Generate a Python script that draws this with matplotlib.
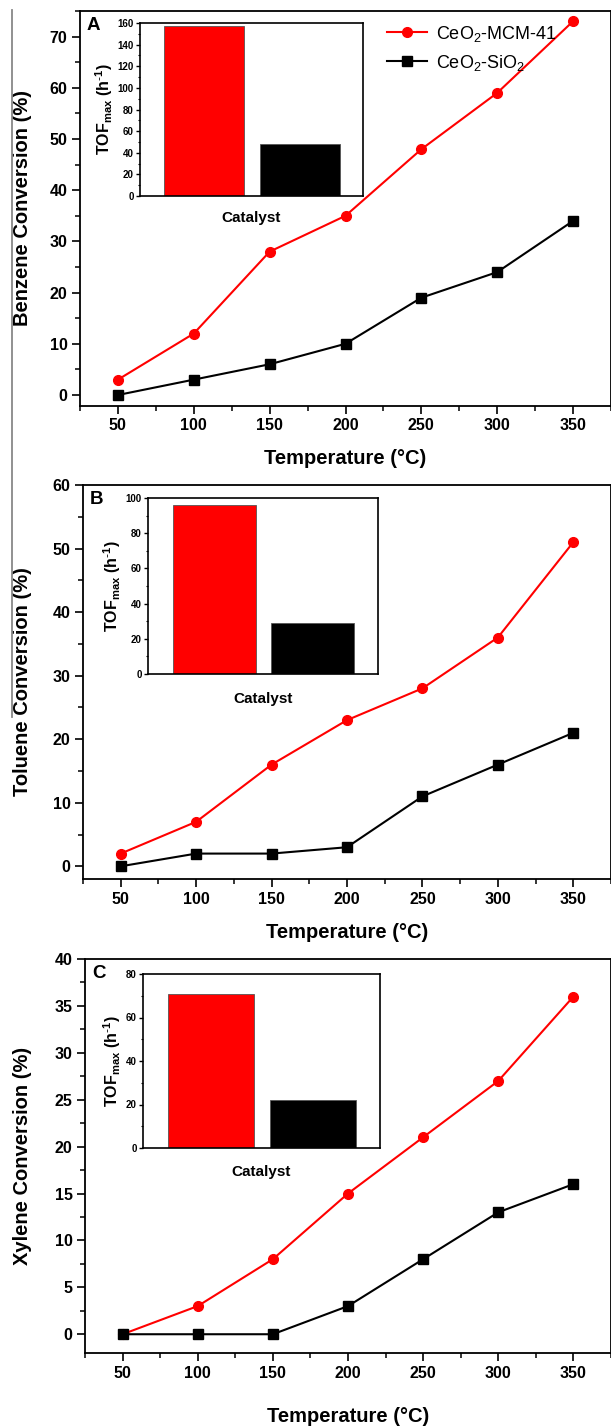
import matplotlib
matplotlib.use("Agg")
import matplotlib.pyplot as plt
from matplotlib.lines import Line2D
from matplotlib.ticker import MultipleLocator

plt.rcParams['font.family'] = ['Liberation Sans', 'DejaVu Sans']
plt.rcParams['mathtext.default'] = 'regular'
plt.rcParams['axes.unicode_minus'] = False

# data
temps = [50, 100, 150, 200, 250, 300, 350]

benzene_mcm = [3, 12, 28, 35, 48, 59, 73]
benzene_sio2 = [0, 3, 6, 10, 19, 24, 34]
toluene_mcm = [2, 7, 16, 23, 28, 36, 51]
toluene_sio2 = [0, 2, 2, 3, 11, 16, 21]
xylene_mcm = [0, 3, 8, 15, 21, 27, 36]
xylene_sio2 = [0, 0, 0, 3, 8, 13, 16]

tof_benzene = [157, 48]
tof_toluene = [96, 29]
tof_xylene = [71, 22]

W, H = 611, 1427
fig = plt.figure(figsize=(W / 100, H / 100), dpi=100)


def fr(left, top, right, bottom):
    # pixel box -> figure fraction rect
    return [left / W, 1 - bottom / H, (right - left) / W, (bottom - top) / H]


panels = [
    # letter, ylabel, mcm, sio2, tof, main box, ylim, ymajor, inset box, tof max, tof major, xlabel y, catalyst y
    ("A", "Benzene Conversion (%)", benzene_mcm, benzene_sio2, tof_benzene,
     (80, 11, 611, 406), (-2.15, 75), 10, (140, 23, 363, 196), 160, 20, 458, 218),
    ("B", "Toluene Conversion (%)", toluene_mcm, toluene_sio2, tof_toluene,
     (83, 485, 611, 879), (-2, 60), 10, (148, 498, 378, 674), 100, 20, 932, 699),
    ("C", "Xylene Conversion (%)", xylene_mcm, xylene_sio2, tof_xylene,
     (85, 959, 611, 1353), (-2, 40), 5, (143, 974, 380, 1148), 80, 20, 1417, 1172),
]

for (letter, ylab, mcm, sio2, tof, box, ylim, ymaj, ibox, tmax, tmaj, xly, caty) in panels:
    ax = fig.add_axes(fr(*box))
    ax.plot(temps, mcm, color='#ff0000', lw=1.5, marker='o', ms=7, label='CeO$_2$-MCM-41', zorder=3)
    ax.plot(temps, sio2, color='black', lw=1.5, marker='s', ms=6.5, label='CeO$_2$-SiO$_2$', zorder=3)
    ax.set_xlim(25, 375)
    ax.set_ylim(*ylim)
    ax.xaxis.set_major_locator(MultipleLocator(50))
    ax.xaxis.set_minor_locator(MultipleLocator(25))
    ax.yaxis.set_major_locator(MultipleLocator(ymaj))
    ax.yaxis.set_minor_locator(MultipleLocator(ymaj / 2))
    ax.tick_params(which='major', direction='out', length=6, width=1.2, labelsize=11.5, pad=3)
    ax.tick_params(which='minor', direction='out', length=3.5, width=1.1)
    for lbl in ax.get_xticklabels() + ax.get_yticklabels():
        lbl.set_fontweight('bold')
    for sp in ax.spines.values():
        sp.set_linewidth(1.3)
    ax.set_ylabel(ylab, fontsize=14.5, fontweight='bold')
    ax.yaxis.label.set_va('center')
    ax.yaxis.set_label_coords((23 - box[0]) / (box[2] - box[0]), 0.5)
    ax.set_xlabel("Temperature (°C)", fontsize=14.5, fontweight='bold')
    ax.xaxis.label.set_va('center')
    ax.xaxis.set_label_coords(0.5, (box[3] - xly) / (box[3] - box[1]))
    ax.text(7 / (box[2] - box[0]), 1 - 15 / (box[3] - box[1]), letter, transform=ax.transAxes,
            fontsize=13.5, fontweight='bold', va='center', ha='left')

    if letter == "A":
        ax.legend(loc='upper left', bbox_to_anchor=(0.555, 1.0), frameon=False, fontsize=13,
                  handlelength=2.2, handletextpad=0.5, labelspacing=0.5, borderaxespad=0.3)

    # TOF inset
    ins = fig.add_axes(fr(*ibox))
    ins.bar([1, 2], tof, width=0.84, color=['#ff0000', 'black'], edgecolor='#555555', lw=0.6)
    ins.set_xlim(0.33, 2.66)
    ins.set_ylim(0, tmax)
    ins.set_xticks([])
    ins.yaxis.set_major_locator(MultipleLocator(tmaj))
    ins.yaxis.set_minor_locator(MultipleLocator(tmaj / 2))
    ins.tick_params(which='major', direction='out', length=3, width=1, labelsize=7, pad=1.5)
    ins.tick_params(which='minor', direction='out', length=1.8, width=0.8)
    for lbl in ins.get_yticklabels():
        lbl.set_fontweight('bold')
    for sp in ins.spines.values():
        sp.set_linewidth(1.2)
    ins.set_ylabel(r"TOF$_{max}$ (h$^{\text{-}1}$)", fontsize=11.5, fontweight='bold', labelpad=2)
    ins.text(0.5, (ibox[3] - caty) / (ibox[3] - ibox[1]), "Catalyst", transform=ins.transAxes,
             fontsize=11, fontweight='bold', ha='center', va='center')

# thin grey page-edge line on the left
fig.add_artist(Line2D([12 / W, 12 / W], [1 - 10 / H, 1 - 717 / H], color='#888888', lw=1.3))

fig.savefig("out.png", dpi=100)
